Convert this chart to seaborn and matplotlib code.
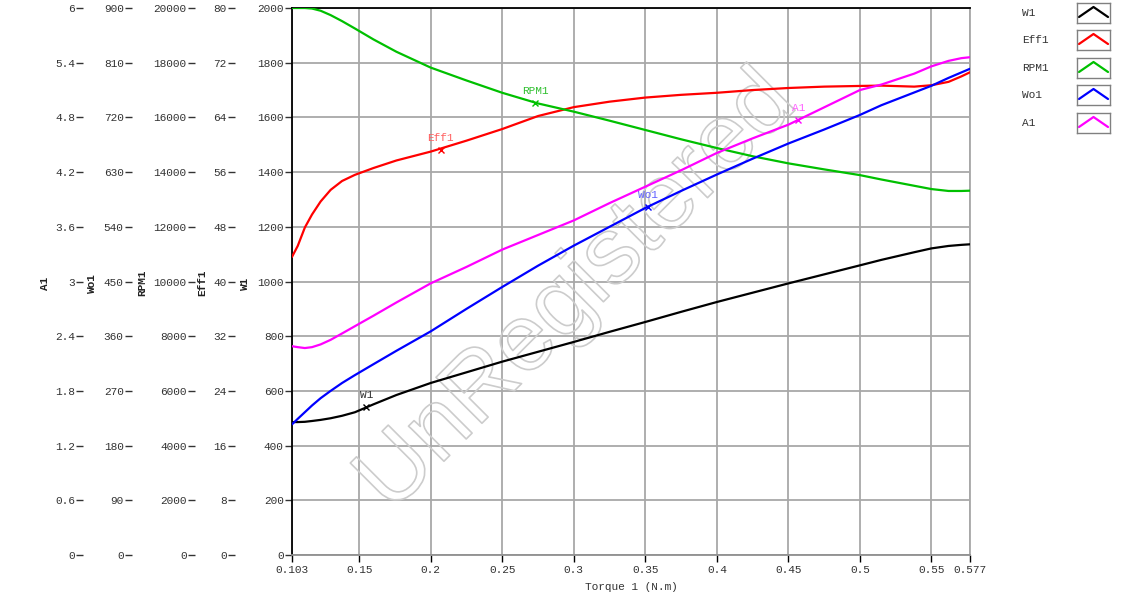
import numpy as np
import pandas as pd
import matplotlib
matplotlib.use('Agg')
import matplotlib.pyplot as plt
import matplotlib.patheffects as pe
import seaborn as sns

# torque points (N.m)
torque = [0.103, 0.107, 0.112, 0.117, 0.123, 0.13, 0.138, 0.147, 0.16, 0.176,
          0.2, 0.225, 0.25, 0.275, 0.3, 0.325, 0.35, 0.375, 0.4, 0.425,
          0.45, 0.475, 0.5, 0.515, 0.538, 0.55, 0.562, 0.571, 0.577]
w1 = [486, 486, 487, 490, 494, 500, 509, 522, 551, 585,
      629, 668, 707, 743, 779, 816, 852, 889, 925, 959,
      993, 1026, 1059, 1079, 1107, 1121, 1130, 1134, 1136]
eff1 = [43.6, 45.2, 47.9, 49.8, 51.7, 53.4, 54.7, 55.6, 56.6, 57.7,
        59.0, 60.6, 62.3, 64.2, 65.5, 66.3, 66.9, 67.3, 67.6, 68.0,
        68.3, 68.5, 68.6, 68.65, 68.5, 68.7, 69.2, 70.0, 70.6]
rpm1 = [20000, 20000, 20000, 19980, 19900, 19740, 19520, 19250, 18850, 18400,
        17820, 17350, 16900, 16510, 16210, 15880, 15540, 15200, 14880, 14580,
        14320, 14100, 13890, 13730, 13500, 13380, 13310, 13310, 13320]
wo1 = [215, 224, 235, 246, 258, 270, 283, 296, 314, 336,
       368, 405, 441, 476, 509, 540, 571, 599, 626, 652,
       677, 700, 724, 740, 761, 772, 785, 794, 800]
a1 = [2.29, 2.28, 2.27, 2.28, 2.31, 2.36, 2.43, 2.51, 2.625, 2.77,
      2.98, 3.16, 3.35, 3.51, 3.67, 3.86, 4.04, 4.22, 4.41, 4.57,
      4.72, 4.91, 5.10, 5.16, 5.28, 5.36, 5.42, 5.45, 5.46]

# marked point on each curve (torque, value)
mark_t = [0.155, 0.207, 0.273, 0.352, 0.457]
mark_v = [542, 59.3, 16540, 572, 4.77]

names = ['W1', 'Eff1', 'RPM1', 'Wo1', 'A1']
colors = ['#000000', '#ff0000', '#00c000', '#0000ff', '#ff00ff']
text_colors = ['#303030', '#ff6060', '#30c030', '#6060ff', '#ff60ff']
y_max = [2000, 80, 20000, 900, 6]
x_ticks = [0.103, 0.15, 0.2, 0.25, 0.3, 0.35, 0.4, 0.45, 0.5, 0.55, 0.577]

df = pd.DataFrame({'Torque': torque, 'W1': w1, 'Eff1': eff1,
                   'RPM1': rpm1, 'Wo1': wo1, 'A1': a1})

sns.set_theme(style='white')
plt.rcParams['font.family'] = ['Liberation Mono', 'DejaVu Sans']

W, H = 1121, 608
fig = plt.figure(figsize=(W / 100, H / 100), dpi=100)
L, R, T, B = 292, 970, 8, 555
ax = fig.add_axes([L / W, 1 - B / H, (R - L) / W, (B - T) / H])

ax.set_xlim(0.103, 0.577)
ax.set_xticks(x_ticks)
ax.set_xticklabels([f'{t:g}' for t in x_ticks])
ax.grid(True, color='#a8a8a8', lw=1.3)
ax.tick_params(axis='x', direction='out', length=5, width=1, color='black',
               labelsize=8, pad=2, bottom=True, labelcolor='#333333')
for s, c in [('left', 'black'), ('top', 'black'), ('right', '#a8a8a8'), ('bottom', '#909090')]:
    ax.spines[s].set_color(c)
    ax.spines[s].set_linewidth(1.3)

# watermark
ax.text(0.422, 0.48, 'UnRegistered', transform=ax.transAxes, rotation=45,
        ha='center', va='center', fontsize=68, family='Liberation Sans',
        color='none', zorder=1,
        path_effects=[pe.Stroke(linewidth=1.2, foreground='#cccccc')])

# one axis per series; W1 uses the main axis
spine_pos = [None, -0.084, -0.143, -0.236, -0.308]
label_px = [245, 202, 142, 92, 45]
axes = []
for i, name in enumerate(names):
    if i == 0:
        a = ax
    else:
        a = ax.twinx()
        a.patch.set_visible(False)
        for s in a.spines.values():
            s.set_visible(False)
        a.yaxis.set_ticks_position('left')
        a.spines['left'].set_position(('axes', spine_pos[i]))
    a.set_ylim(0, y_max[i])
    ticks = np.linspace(0, y_max[i], 11)
    a.set_yticks(ticks)
    a.set_yticklabels([f'{round(v, 2):g}' for v in ticks])
    a.tick_params(axis='y', direction='out', length=5, width=1, color='#333333',
                  labelsize=8, pad=1, labelcolor='#333333', left=True, right=False,
                  labelleft=True, labelright=False)
    fig.text(label_px[i] / W, 1 - 283 / H, name, rotation=90, ha='center',
             va='center', fontsize=8, fontweight='bold', color='#222222')
    axes.append(a)

for i, name in enumerate(names):
    a = axes[i]
    sns.lineplot(data=df, x='Torque', y=name, ax=a, color=colors[i], lw=1.6,
                 sort=False, estimator=None, zorder=3)
    a.plot(mark_t[i], mark_v[i], marker='x', ms=4, mew=1, color=colors[i], zorder=4)
    a.annotate(name, (mark_t[i], mark_v[i]), xytext=(0, 5), textcoords='offset points',
               ha='center', va='bottom', fontsize=8, color=text_colors[i])
    a.set_ylabel('')
    a.set_xlabel('')

ax.set_xlabel('Torque 1 (N.m)', fontsize=8, labelpad=5, color='#333333')

# legend on the right: label then a small framed icon
row_y = [13, 40, 68, 95, 123]
for i, name in enumerate(names):
    fig.text(1022 / W, 1 - row_y[i] / H, name, ha='left', va='center',
             fontsize=8, color='#333333')
    box = fig.add_axes([1077 / W, 1 - (row_y[i] + 10) / H, 33 / W, 20 / H])
    box.plot([0.06, 0.5, 0.94], [0.3, 0.8, 0.3], color=colors[i], lw=1.6)
    box.set_xlim(0, 1)
    box.set_ylim(0, 1)
    box.set_xticks([])
    box.set_yticks([])
    for s in box.spines.values():
        s.set_color('#808080')
        s.set_linewidth(1)

fig.savefig('out.png', dpi=100)
